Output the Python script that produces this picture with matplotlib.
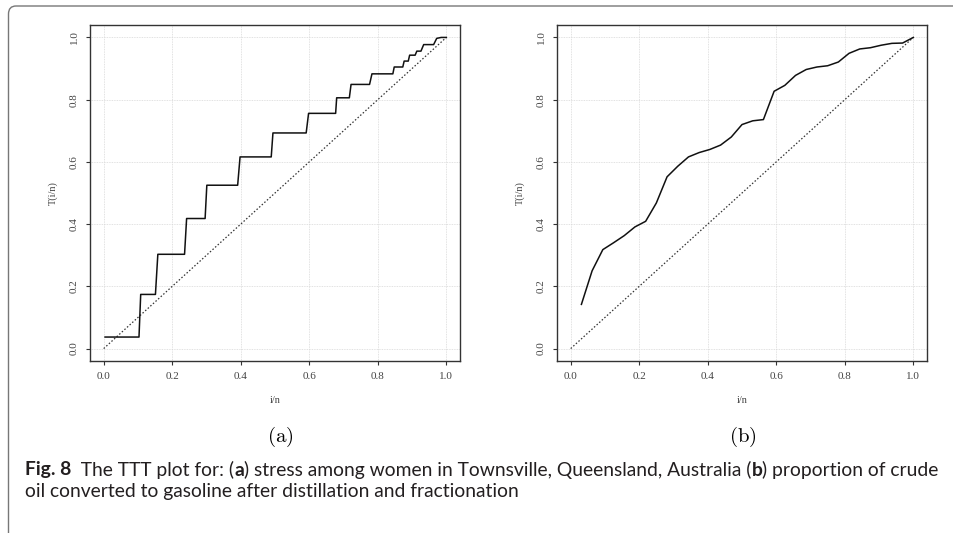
import matplotlib
matplotlib.use("Agg")
import matplotlib.pyplot as plt
from matplotlib.path import Path
from matplotlib.patches import PathPatch

plt.rcParams['mathtext.fontset'] = 'cm'

# (a) stress data: corners of the step-shaped TTT curve
stress_x = [0.004, 0.103, 0.108, 0.151, 0.158, 0.236, 0.242, 0.296, 0.301, 0.391,
            0.398, 0.489, 0.494, 0.591, 0.598, 0.677, 0.680, 0.717, 0.722, 0.776,
            0.783, 0.844, 0.848, 0.873, 0.877, 0.889, 0.893, 0.909, 0.914, 0.926,
            0.934, 0.963, 0.972, 0.985, 1.000]
stress_y = [0.037, 0.037, 0.174, 0.174, 0.303, 0.303, 0.418, 0.418, 0.525, 0.525,
            0.616, 0.616, 0.693, 0.693, 0.756, 0.756, 0.806, 0.806, 0.849, 0.849,
            0.883, 0.883, 0.905, 0.905, 0.924, 0.924, 0.943, 0.943, 0.956, 0.956,
            0.977, 0.977, 0.997, 1.000, 1.000]

# (b) gasoline data, n = 32
n_gas = 32
gas_ttt = [0.142, 0.250, 0.318, 0.340, 0.363, 0.391, 0.409, 0.468, 0.552, 0.586,
           0.616, 0.630, 0.640, 0.654, 0.680, 0.720, 0.732, 0.736, 0.827, 0.846,
           0.878, 0.897, 0.905, 0.909, 0.921, 0.949, 0.963, 0.967, 0.975, 0.981,
           0.982, 1.000]
gas_x = [(i + 1) / n_gas for i in range(n_gas)]

ticks = [0.0, 0.2, 0.4, 0.6, 0.8, 1.0]
tick_labels = ["0.0", "0.2", "0.4", "0.6", "0.8", "1.0"]

W, H = 954, 533
fig = plt.figure(figsize=(W / 100, H / 100), dpi=100)

serif = ['Liberation Serif', 'DejaVu Serif']


def ttt_panel(left, xs, ys):
    ax = fig.add_axes([left / W, 1 - 361 / H, 370 / W, 336 / H])
    ax.plot([0, 1], [0, 1], color='#333333', lw=0.9, ls=(0, (1.2, 1.6)))
    ax.plot(xs, ys, color='#111111', lw=1.1)
    ax.set_xlim(-0.04, 1.04)
    ax.set_ylim(-0.04, 1.04)
    ax.set_xticks(ticks)
    ax.set_yticks(ticks)
    ax.set_xticklabels(tick_labels, family=serif, fontsize=8, color='#444444')
    ax.set_yticklabels(tick_labels, family=serif, fontsize=8, color='#444444',
                       rotation=90, va='center')
    ax.tick_params(length=3, width=0.8, color='#333333', pad=5)
    ax.grid(True, color='#d8d8d8', lw=0.6, ls=(0, (1, 1)))
    for s in ax.spines.values():
        s.set_linewidth(1.0)
        s.set_color('#333333')
    ax.set_xlabel("i/n", family=serif, fontsize=7.5, color='#444444', labelpad=11)
    ax.set_ylabel("T(i/n)", family=serif, fontsize=7.5, color='#444444', labelpad=9)
    return ax


ttt_panel(90, stress_x, stress_y)
ttt_panel(557, gas_x, gas_ttt)

fig.text(280 / W, 1 - 437 / H, r'$\mathrm{(a)}$', fontsize=15, ha='center', va='center')
fig.text(743 / W, 1 - 437 / H, r'$\mathrm{(b)}$', fontsize=15, ha='center', va='center')

# frame: left and top rules with a rounded corner
px = lambda x, y: (x / W, 1 - y / H)
verts = [px(8.5, 533), px(8.5, 14), px(8.5, 6), px(16, 6), px(954, 6)]
codes = [Path.MOVETO, Path.LINETO, Path.CURVE3, Path.CURVE3, Path.LINETO]
fig.add_artist(PathPatch(Path(verts, codes), transform=fig.transFigure,
                         fill=False, edgecolor='#777777', lw=1.0))

# caption, drawn piece by piece so the bold parts sit inline
cap_font = ['Lato', 'DejaVu Sans']
cap_size = 13.9
line1 = [("Fig. 8", 'bold'), ("  The TTT plot for: (", 'normal'), ("a", 'bold'),
         (") stress among women in Townsville, Queensland, Australia (", 'normal'),
         ("b", 'bold'), (") proportion of crude", 'normal')]
line2 = [("oil converted to gasoline after distillation and fractionation", 'normal')]

renderer = fig.canvas.get_renderer()
for segs, y in [(line1, 470), (line2, 492)]:
    x = 25
    for txt, wt in segs:
        t = fig.text(x / W, 1 - y / H, txt, fontsize=cap_size, family=cap_font,
                     weight=wt, color='#231f20', va='center', ha='left')
        bb = t.get_window_extent(renderer)
        x += bb.width

fig.savefig("out.png", dpi=100)
